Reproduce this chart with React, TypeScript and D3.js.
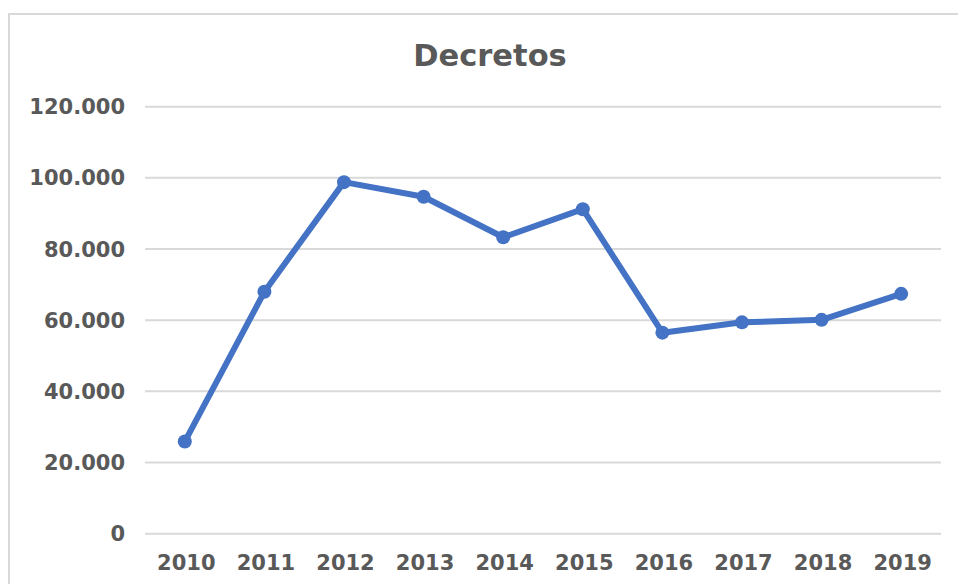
import React from "react";
import * as d3 from "d3";

const years = ["2010", "2011", "2012", "2013", "2014", "2015", "2016", "2017", "2018", "2019"];
const decretos = [25900, 68000, 98800, 94700, 83300, 91200, 56500, 59400, 60100, 67400];
const yTicks = [0, 20000, 40000, 60000, 80000, 100000, 120000];
const title = "Decretos";

const W = 958;
const H = 584;
const plot = { left: 145, right: 941, top: 106.7, bottom: 533.7 };
const textColor = "#595959";
const gridColor = "#d9d9d9";
const lineColor = "#4472C4";
const font = "'DejaVu Sans', Verdana, sans-serif";

const locale = d3.formatLocale({ decimal: ",", thousands: ".", grouping: [3], currency: ["", ""] });
const fmt = locale.format(",");

export default function App() {
  const x = d3.scaleBand<string>().domain(years).range([plot.left, plot.right]).padding(0);
  const y = d3.scaleLinear().domain([0, 120000]).range([plot.bottom, plot.top]);
  const cx = (yr: string) => (x(yr) as number) + x.bandwidth() / 2;
  const line = d3
    .line<number>()
    .x((_, i) => cx(years[i]))
    .y((d) => y(d));

  return (
    <svg
      width={W}
      height={H}
      style={{ position: "absolute", left: 0, top: 0, display: "block", background: "#fff" }}
      fontFamily={font}
    >
      <rect x={0} y={0} width={W} height={H} fill="#fff" />
      <rect x={9} y={14} width={980} height={620} fill="#fff" stroke={gridColor} strokeWidth={2} />
      <text x={490} y={66} textAnchor="middle" fontSize={30.5} fontWeight="bold" fill={textColor}>
        {title}
      </text>
      {yTicks.map((t) => (
        <g key={t}>
          <line x1={plot.left} x2={plot.right} y1={y(t)} y2={y(t)} stroke={gridColor} strokeWidth={2} />
          <text
            x={125}
            y={y(t)}
            dy="0.36em"
            textAnchor="end"
            fontSize={21}
            fontWeight="bold"
            fill={textColor}
          >
            {fmt(t)}
          </text>
        </g>
      ))}
      {years.map((yr) => (
        <text key={yr} x={cx(yr) + 1.5} y={570} textAnchor="middle" fontSize={21} fontWeight="bold" fill={textColor}>
          {yr}
        </text>
      ))}
      <path d={line(decretos) || ""} fill="none" stroke={lineColor} strokeWidth={6} strokeLinejoin="round" strokeLinecap="round" />
      {decretos.map((v, i) => (
        <circle key={years[i]} cx={cx(years[i])} cy={y(v)} r={7} fill={lineColor} />
      ))}
    </svg>
  );
}
